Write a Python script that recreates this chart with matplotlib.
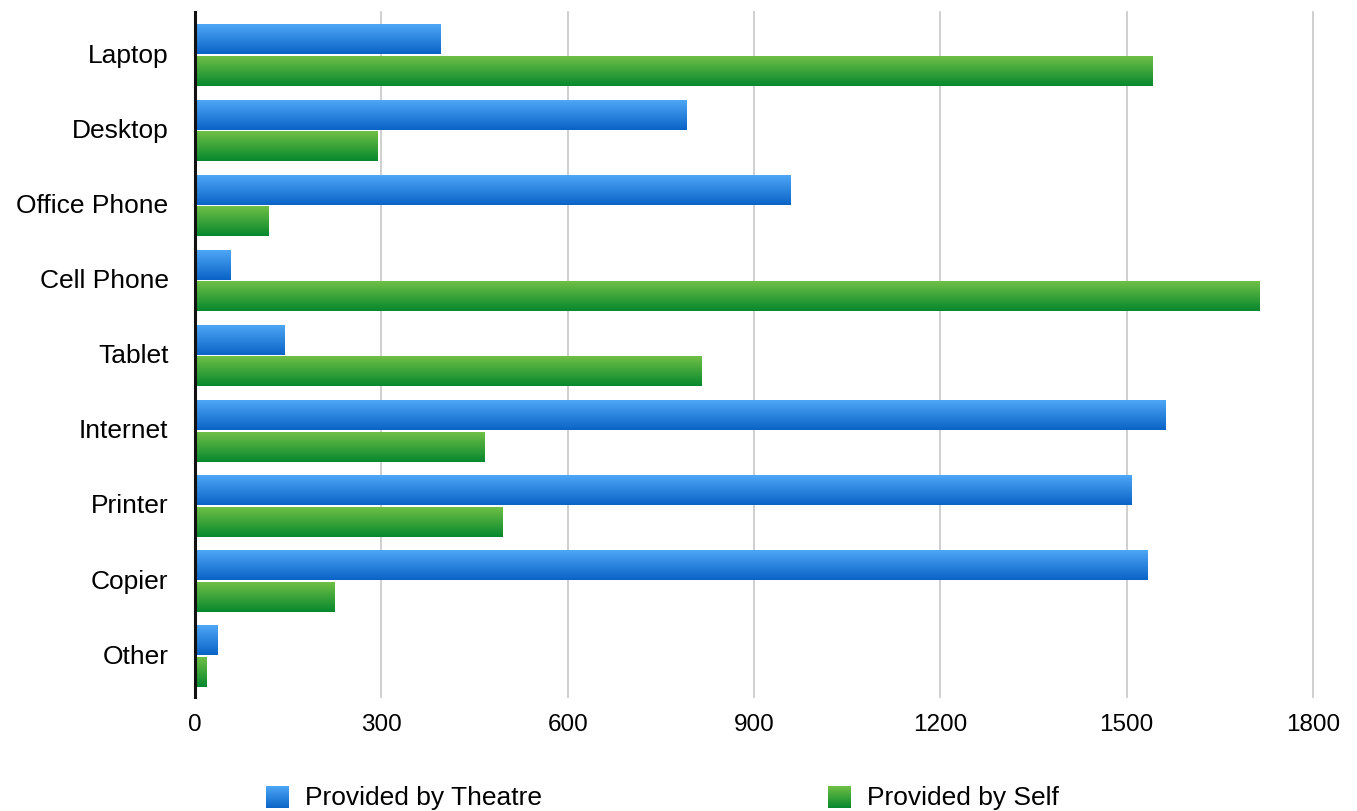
import numpy as np
import matplotlib
matplotlib.use("Agg")
import matplotlib.pyplot as plt
from matplotlib.colors import LinearSegmentedColormap

categories = ["Laptop", "Desktop", "Office Phone", "Cell Phone", "Tablet",
              "Internet", "Printer", "Copier", "Other"]
theatre = [396, 791, 958, 57, 144, 1562, 1507, 1533, 36]
self_provided = [1541, 294, 118, 1714, 816, 466, 495, 224, 18]
series_names = ["Provided by Theatre", "Provided by Self"]
xticks = [0, 300, 600, 900, 1200, 1500, 1800]

blue_cmap = LinearSegmentedColormap.from_list("blue", ["#4ea6f6", "#0a64c6"])
green_cmap = LinearSegmentedColormap.from_list("green", ["#6fbf45", "#07882e"])
grad = np.linspace(0, 1, 64).reshape(-1, 1)

plt.rcParams["font.family"] = ["Liberation Sans", "DejaVu Sans"]

W, H = 1357, 811
fig = plt.figure(figsize=(W / 100, H / 100), dpi=100)
ax = fig.add_axes([195 / W, 1 - 697 / H, (1313 - 195) / W, (697 - 12) / H])

y = np.arange(len(categories))
bh = 0.39
gap = 0.03
bars_t = ax.barh(y - (bh + gap) / 2, theatre, height=bh, color="none")
bars_s = ax.barh(y + (bh + gap) / 2, self_provided, height=bh, color="none")


def fill_gradient(bars, cmap):
    # paint each bar with a vertical gradient (light on top, dark at the bottom)
    for b in bars:
        x0, y0 = b.get_x(), b.get_y()
        w, h = b.get_width(), b.get_height()
        ax.imshow(grad, cmap=cmap, aspect="auto", interpolation="bilinear",
                  extent=(x0, x0 + w, y0 + h, y0), zorder=3)


fill_gradient(bars_t, blue_cmap)
fill_gradient(bars_s, green_cmap)

ax.set_xlim(0, 1800)
ax.set_ylim(len(categories) - 0.46, -0.58)
ax.set_xticks(xticks)
ax.set_xticklabels([str(t) for t in xticks], fontsize=17.5)
ax.set_yticks(y - 0.03)
ax.set_yticklabels(categories, fontsize=19)
ax.tick_params(axis="both", length=0)
ax.tick_params(axis="x", pad=12)
ax.tick_params(axis="y", pad=19)
ax.grid(axis="x", color="#cccccc", linewidth=1.3, zorder=0)
ax.set_axisbelow(True)
for side in ("top", "right", "bottom"):
    ax.spines[side].set_visible(False)
ax.spines["left"].set_linewidth(2.2)
ax.spines["left"].set_color("#111111")
ax.spines["left"].set_zorder(5)
for gl in ax.get_xgridlines():
    gl.set_clip_on(False)

# legend: gradient swatches plus labels along the bottom edge
for x_px, cmap, name in [(266, blue_cmap, series_names[0]),
                         (828, green_cmap, series_names[1])]:
    sw = fig.add_axes([x_px / W, 1 - 808 / H, 23 / W, 22 / H])
    sw.imshow(grad, cmap=cmap, aspect="auto", interpolation="bilinear")
    sw.set_axis_off()
    fig.text((x_px + 39) / W, 1 - 798 / H, name, fontsize=19, va="center")

fig.savefig("out.png", dpi=100)
